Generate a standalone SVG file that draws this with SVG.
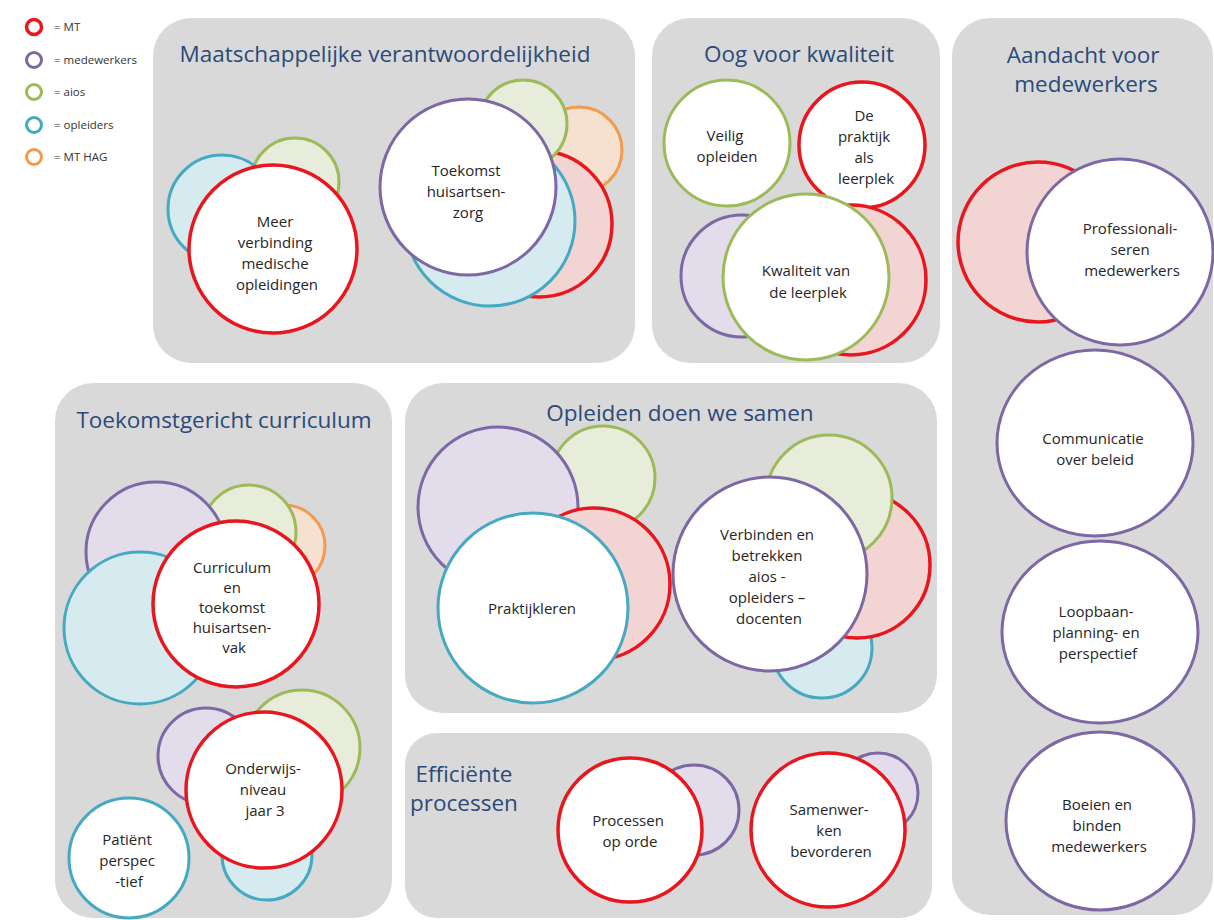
<svg xmlns="http://www.w3.org/2000/svg" width="1214" height="920" viewBox="0 0 1214 920">
  <defs>
    <style>
      .panel { fill: #d9d9d9; }
      .title { font-family: "Open Sans", "Noto Sans", sans-serif; font-size: 22.5px; fill: #2b4a78; text-anchor: middle; }
      .lbl { font-family: "Open Sans", "Noto Sans", sans-serif; font-size: 15px; fill: #262626; text-anchor: middle; }
      .leg { font-family: "Open Sans", "Noto Sans", sans-serif; font-size: 11.5px; fill: #333333; }
      circle, ellipse { stroke-width: 3; }
      .mt { stroke: #e8161e; stroke-width: 3.5; }
      .mw { stroke: #7d67a5; }
      .ai { stroke: #9bbb59; }
      .op { stroke: #44a9c1; }
      .hag { stroke: #f39a4e; }
      .front { fill: #ffffff; }
      .mt.back { fill: #f2d5d3; }
      .mw.back { fill: #e3dcea; }
      .ai.back { fill: #e8ecda; }
      .op.back { fill: #d6ebf0; }
      .hag.back { fill: #f6e1d0; }
      .key { fill: #ffffff; }
    </style>
  </defs>

  <rect x="0" y="0" width="1214" height="920" fill="#ffffff"/>

  <!-- legend -->
  <g id="legend">
    <circle class="key mt" cx="34" cy="27" r="7.5"/>
    <text class="leg" x="54" y="31">= MT</text>
    <circle class="key mw" cx="34" cy="60" r="7.5"/>
    <text class="leg" x="54" y="64">= medewerkers</text>
    <circle class="key ai" cx="34" cy="92" r="7.5"/>
    <text class="leg" x="54" y="96">= aios</text>
    <circle class="key op" cx="34" cy="125" r="7.5"/>
    <text class="leg" x="54" y="129">= opleiders</text>
    <circle class="key hag" cx="34" cy="157" r="7.5"/>
    <text class="leg" x="54" y="161">= MT HAG</text>
  </g>

  <!-- panel: Maatschappelijke verantwoordelijkheid -->
  <g id="maatschappelijke-verantwoordelijkheid">
    <rect class="panel" x="153" y="18" width="482" height="345" rx="38"/>
    <text class="title" x="385" y="62">Maatschappelijke verantwoordelijkheid</text>
  </g>
  <g id="meer-verbinding">
    <circle class="ai back" cx="295" cy="182" r="44"/>
    <circle class="op back" cx="222" cy="209" r="54"/>
    <circle class="mt front" cx="273" cy="249" r="84"/>
    <text class="lbl">
      <tspan x="277" y="227">Meer</tspan>
      <tspan x="277" y="248">verbinding</tspan>
      <tspan x="277" y="269">medische</tspan>
      <tspan x="277" y="290">opleidingen</tspan>
    </text>
  </g>
  <g id="toekomst-huisartsenzorg">
    <circle class="hag back" cx="579" cy="150" r="43"/>
    <circle class="mt back" cx="539" cy="224" r="73"/>
    <circle class="ai back" cx="523" cy="124" r="44"/>
    <circle class="op back" cx="490" cy="221" r="85"/>
    <circle class="mw front" cx="468" cy="187" r="88"/>
    <text class="lbl">
      <tspan x="468" y="176">Toekomst</tspan>
      <tspan x="468" y="197">huisartsen-</tspan>
      <tspan x="468" y="218">zorg</tspan>
    </text>
  </g>

  <!-- panel: Oog voor kwaliteit -->
  <g id="oog-voor-kwaliteit">
    <rect class="panel" x="652" y="18" width="288" height="345" rx="38"/>
    <text class="title" x="799" y="62">Oog voor kwaliteit</text>
  </g>
  <g id="veilig-opleiden">
    <circle class="ai front" cx="727" cy="143" r="63"/>
    <text class="lbl">
      <tspan x="727" y="141">Veilig</tspan>
      <tspan x="727" y="162">opleiden</tspan>
    </text>
  </g>
  <g id="praktijk-als-leerplek">
    <circle class="mt front" cx="862" cy="145" r="63"/>
    <text class="lbl">
      <tspan x="866" y="121">De</tspan>
      <tspan x="866" y="142">praktijk</tspan>
      <tspan x="866" y="163">als</tspan>
      <tspan x="866" y="184">leerplek</tspan>
    </text>
  </g>
  <g id="kwaliteit-leerplek">
    <circle class="mw back" cx="742" cy="276" r="61"/>
    <circle class="mt back" cx="851" cy="280" r="75"/>
    <circle class="ai front" cx="806" cy="277" r="83"/>
    <text class="lbl">
      <tspan x="808" y="276">Kwaliteit van</tspan>
      <tspan x="808" y="298">de leerplek</tspan>
    </text>
  </g>

  <!-- panel: Aandacht voor medewerkers -->
  <g id="aandacht-voor-medewerkers">
    <rect class="panel" x="952" y="18" width="261" height="897" rx="38"/>
    <text class="title">
      <tspan x="1086" y="63">Aandacht voor</tspan>
      <tspan x="1086" y="92">medewerkers</tspan>
    </text>
  </g>
  <g id="professionaliseren">
    <circle class="mt back" cx="1038" cy="242" r="80"/>
    <circle class="mw front" cx="1120" cy="252" r="93"/>
    <text class="lbl">
      <tspan x="1132" y="234">Professionali-</tspan>
      <tspan x="1132" y="255">seren</tspan>
      <tspan x="1132" y="276">medewerkers</tspan>
    </text>
  </g>
  <g id="communicatie">
    <ellipse class="mw front" cx="1095" cy="443" rx="98" ry="93"/>
    <text class="lbl">
      <tspan x="1095" y="444">Communicatie</tspan>
      <tspan x="1095" y="465">over beleid</tspan>
    </text>
  </g>
  <g id="loopbaan">
    <ellipse class="mw front" cx="1100" cy="632" rx="98" ry="91"/>
    <text class="lbl">
      <tspan x="1098" y="617">Loopbaan-</tspan>
      <tspan x="1098" y="638">planning- en</tspan>
      <tspan x="1098" y="659">perspectief</tspan>
    </text>
  </g>
  <g id="boeien-binden">
    <ellipse class="mw front" cx="1100" cy="821" rx="94" ry="89"/>
    <text class="lbl">
      <tspan x="1099" y="810">Boeien en</tspan>
      <tspan x="1099" y="831">binden</tspan>
      <tspan x="1099" y="852">medewerkers</tspan>
    </text>
  </g>

  <!-- panel: Toekomstgericht curriculum -->
  <g id="toekomstgericht-curriculum">
    <rect class="panel" x="55" y="383" width="337" height="535" rx="38"/>
    <text class="title" x="224" y="428">Toekomstgericht curriculum</text>
  </g>
  <g id="curriculum-toekomst">
    <circle class="hag back" cx="284" cy="546" r="41"/>
    <circle class="ai back" cx="249" cy="532" r="47"/>
    <circle class="mw back" cx="156" cy="552" r="70"/>
    <circle class="op back" cx="140" cy="628" r="76"/>
    <circle class="mt front" cx="236" cy="604" r="83"/>
    <text class="lbl">
      <tspan x="234" y="573">Curriculum</tspan>
      <tspan x="234" y="593">en</tspan>
      <tspan x="234" y="613">toekomst</tspan>
      <tspan x="234" y="633">huisartsen-</tspan>
      <tspan x="234" y="653">vak</tspan>
    </text>
  </g>
  <g id="onderwijsniveau">
    <circle class="ai back" cx="302" cy="748" r="58"/>
    <circle class="mw back" cx="206" cy="756" r="48"/>
    <circle class="op back" cx="267" cy="855" r="45"/>
    <circle class="mt front" cx="264" cy="790" r="78"/>
    <text class="lbl">
      <tspan x="265" y="774">Onderwijs-</tspan>
      <tspan x="265" y="795">niveau</tspan>
      <tspan x="265" y="816">jaar 3</tspan>
    </text>
  </g>
  <g id="patient-perspectief">
    <circle class="op front" cx="129" cy="858" r="60"/>
    <text class="lbl">
      <tspan x="129" y="845">Patiënt</tspan>
      <tspan x="129" y="866">perspec</tspan>
      <tspan x="129" y="887">-tief</tspan>
    </text>
  </g>

  <!-- panel: Opleiden doen we samen -->
  <g id="opleiden-doen-we-samen">
    <rect class="panel" x="405" y="383" width="532" height="330" rx="38"/>
    <text class="title" x="680" y="421">Opleiden doen we samen</text>
  </g>
  <g id="praktijkleren">
    <circle class="ai back" cx="603" cy="478" r="52"/>
    <circle class="mw back" cx="498" cy="507" r="80"/>
    <circle class="mt back" cx="594" cy="584" r="76"/>
    <circle class="op front" cx="533" cy="608" r="95"/>
    <text class="lbl" x="532" y="614">Praktijkleren</text>
  </g>
  <g id="verbinden-betrekken">
    <circle class="op back" cx="822" cy="648" r="50"/>
    <circle class="mt back" cx="857" cy="565" r="73"/>
    <circle class="ai back" cx="829" cy="498" r="63"/>
    <circle class="mw front" cx="770" cy="574" r="97"/>
    <text class="lbl">
      <tspan x="769" y="540">Verbinden en</tspan>
      <tspan x="769" y="561">betrekken</tspan>
      <tspan x="769" y="582">aios -</tspan>
      <tspan x="769" y="603">opleiders –</tspan>
      <tspan x="769" y="624">docenten</tspan>
    </text>
  </g>

  <!-- panel: Efficiënte processen -->
  <g id="efficiente-processen">
    <rect class="panel" x="405" y="733" width="527" height="185" rx="32"/>
    <text class="title" x="464" y="782">Efficiënte</text>
    <text class="title" x="464" y="811">processen</text>
  </g>
  <g id="processen-op-orde">
    <circle class="mw back" cx="694" cy="810" r="45"/>
    <circle class="mt front" cx="630" cy="830" r="72"/>
    <text class="lbl">
      <tspan x="630" y="826">Processen</tspan>
      <tspan x="630" y="847">op orde</tspan>
    </text>
  </g>
  <g id="samenwerken-bevorderen">
    <circle class="mw back" cx="878" cy="793" r="40"/>
    <circle class="mt front" cx="828" cy="830" r="77"/>
    <text class="lbl">
      <tspan x="831" y="815">Samenwer-</tspan>
      <tspan x="831" y="836">ken</tspan>
      <tspan x="831" y="857">bevorderen</tspan>
    </text>
  </g>
</svg>
